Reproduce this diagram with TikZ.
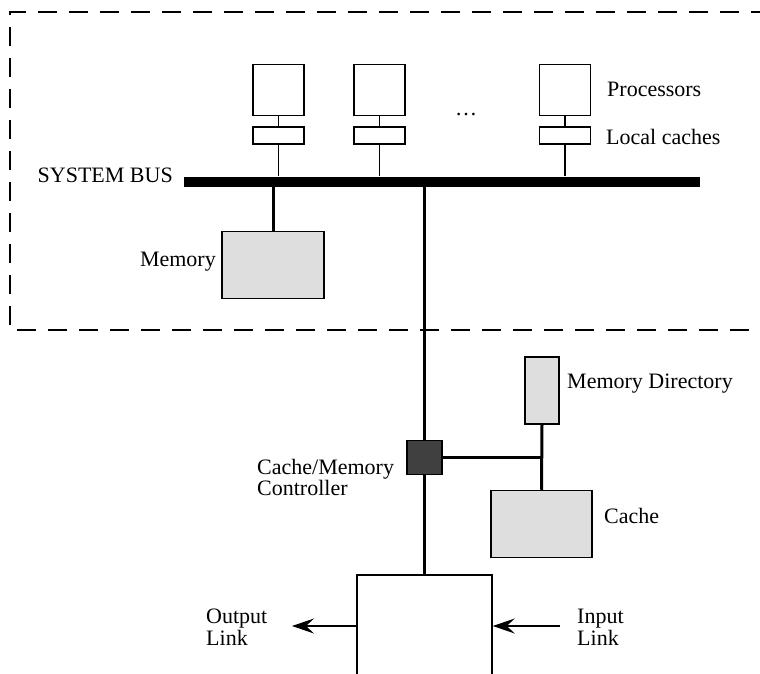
\documentclass[tikz,border=0pt]{standalone}
\usepackage{fontspec}
\setmainfont{Liberation Serif}
\usepackage{tikz}
\usetikzlibrary{arrows.meta, positioning}
\definecolor{boxgray}{HTML}{DEDEDE}
\definecolor{ctrlgray}{HTML}{404040}
\tikzstyle{proc}      = [draw, line width=1.5pt, minimum width=51pt, minimum height=51pt, inner sep=0pt]
\tikzstyle{lcache}    = [draw, line width=1.5pt, minimum width=51pt, minimum height=17pt, inner sep=0pt]
\tikzstyle{graybox}   = [draw, line width=1.5pt, fill=boxgray, inner sep=0pt]
\tikzstyle{txt}       = [inner sep=0pt, align=left]
\tikzstyle{edge}      = [line width=1.3pt]
\tikzstyle{thickedge} = [line width=3pt]
\tikzstyle{arrow}     = [line width=1.5pt, -{Stealth[length=22pt, width=15pt, inset=8pt]}]
\tikzstyle{frame}     = [line width=1.3pt, dash pattern=on 19pt off 12pt]

\begin{document}
\begin{tikzpicture}[x=1pt, y=-1pt, font=\fontsize{22}{21.5}\selectfont]

\useasboundingbox (0,0) rectangle (760,674);
\clip (0,0) rectangle (760,674);

% dashed frame
\draw[frame] (770,12) -- (10,12) -- (10,330) -- (770,330);

% processors and local caches
\node[proc] (p1) at (278.5,90) {};
\node[proc] (p2) at (379.5,90) {};
\node[proc] (p3) at (565,90) {};
\node[lcache] (c1) at (278.5,135.5) {};
\node[lcache] (c2) at (379.5,135.5) {};
\node[lcache] (c3) at (565,135.5) {};
\node[txt, anchor=base] (dots) at (466,116) {\dots};
\node[txt, anchor=base west] (proclbl) at (607,97) {Processors};
\node[txt, anchor=base west] (cachelbl) at (606,145) {Local caches};

% system bus
\node[fill=black, minimum width=516pt, minimum height=10pt, inner sep=0pt] (bus) at (442,181.5) {};
\node[txt, anchor=base east] (buslbl) at (173,182) {SYSTEM BUS};

% memory
\node[graybox, minimum width=102pt, minimum height=67pt] (mem) at (273,265) {};
\node[txt, anchor=base east] (memlbl) at (216,266) {Memory};

% controller, directory, cache
\node[draw, line width=1.5pt, fill=ctrlgray, minimum width=35pt, minimum height=34pt, inner sep=0pt] (ctrl) at (424.5,457.5) {};
\node[graybox, minimum width=34pt, minimum height=67pt] (dir) at (542,390.5) {};
\node[graybox, minimum width=101pt, minimum height=67pt] (cache) at (541.5,524) {};
\coordinate (junc) at (dir.south |- ctrl);
\node[txt, anchor=base west] (dirlbl) at (567,388) {Memory Directory};
\node[txt, anchor=base west] (cachel) at (604,523) {Cache};
\node[txt, anchor=north west] (ctrllbl) at (257,459) {Cache/Memory\\Controller};

% link box
\node[draw, line width=1.5pt, minimum width=135pt, minimum height=140pt, inner sep=0pt] (link) at (424.5,645) {};
\coordinate (outend) at (292,626);
\coordinate (inend) at (560,626);
\node[txt, anchor=north west] (outlbl) at (206,609) {Output\\Link};
\node[txt, anchor=north west] (inlbl) at (577,609) {Input\\Link};

% connections
\draw[edge] (p1) -- (c1);
\draw[edge] (p2) -- (c2);
\draw[edge] (p3) -- (c3);
\draw[edge] (c1) -- (c1 |- bus.north);
\draw[edge] (c2) -- (c2 |- bus.north);
\draw[edge] (c3) -- (c3 |- bus.north);
\draw[thickedge] (mem.north) -- (mem.north |- bus.south);
\draw[thickedge] (ctrl.north) -- (ctrl.north |- bus.south);
\draw[thickedge] (ctrl.south) -- (link.north);
\draw[thickedge] (ctrl.east) -- (junc);
\draw[thickedge] (dir.south) -- (cache.north);

\draw[arrow] (outend -| link.west) -- (outend);
\draw[arrow] (inend) -- (inend -| link.east);

\end{tikzpicture}
\end{document}
